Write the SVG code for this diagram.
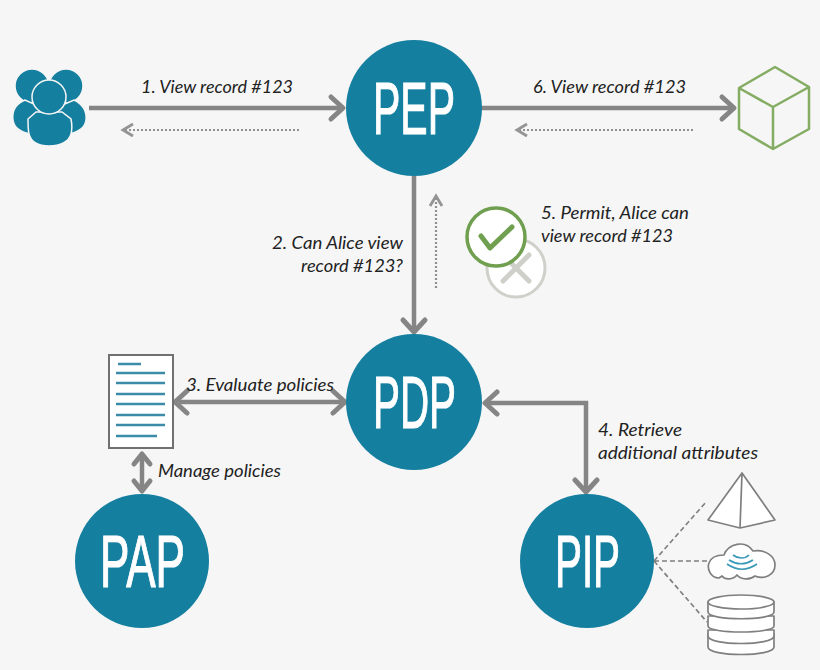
<svg xmlns="http://www.w3.org/2000/svg" width="820" height="670" viewBox="0 0 820 670">
<style>
.c{fill:#157fa0}
.lb{font-family:"Liberation Sans",Arial,sans-serif;fill:#fff;stroke:#fff;stroke-width:1.2;font-size:75px}
.t{font-family:Lato,"Open Sans","Liberation Sans",sans-serif;font-style:italic;font-size:18px;fill:#222}
.s{fill:none;stroke:#858585;stroke-width:4.5}
.d{fill:none;stroke:#8f8f8f;stroke-width:2.2;stroke-dasharray:2 2}
.h{fill:none;stroke:#858585;stroke-width:5;stroke-linecap:round;stroke-linejoin:round}
.hd{fill:none;stroke:#949494;stroke-width:2.8}
.g{fill:none;stroke:#84ac62;stroke-width:2.5;stroke-linejoin:round}
.ln{stroke:#3c8ba8;stroke-width:2.5;fill:none}
.o{fill:#fff;stroke:#7f7f7f;stroke-width:1.7;stroke-linejoin:round}
.da{fill:none;stroke:#808080;stroke-width:1.7;stroke-dasharray:5 3}
</style>
<rect width="820" height="670" fill="#f6f6f6"/>
<g id="connectors">
<path class="s" d="M89 108H342"/><path class="h" d="M331 97l12 11-12 11"/>
<path class="d" d="M299 130H126"/><path class="hd" d="M133 124l-10 6 10 6"/>
<path class="s" d="M481 108H733"/><path class="h" d="M722 97l12 11-12 11"/>
<path class="d" d="M693 130H520"/><path class="hd" d="M527 124l-10 6 10 6"/>
<path class="s" d="M414 176V330"/><path class="h" d="M403 320l11 12 11-12"/>
<path class="d" d="M436 288V199"/><path class="hd" d="M430 206l6-10 6 10"/>
<path class="s" d="M179 402H344"/><path class="h" d="M187 391l-12 11 12 11M333 391l12 11-12 11"/>
<path class="s" d="M142 454V490"/><path class="h" d="M134 464l8-10 8 10M134 481l8 10 8-10"/>
<path class="s" d="M487 403H586V490"/><path class="h" d="M497 392l-12 11 12 11M575 480l11 12 11-12"/>
<path class="da" d="M654 561L707 501M654 561H708M654 561L707 622"/>
</g>
<g id="users">
<g fill="#157fa0" stroke="#f6f6f6" stroke-width="1.5">
<circle cx="32" cy="86" r="17"/><circle cx="66" cy="86" r="17"/>
<path d="M25 100C15 104 12 112 13 120C14 128 20 132 31 134L52 112Z"/>
<path d="M74 100C83 104 87 112 86 120C85 128 79 132 68 134L46 112Z"/>
</g>
<path d="M36 112L28 119C28 124 28 130 29 134C31 142 39 146 49 146C60 146 69 142 71 134C72 130 72 124 71 119L62 112Z" fill="#157fa0" stroke="#f6f6f6" stroke-width="1.5"/>
<circle cx="49" cy="97" r="17" fill="#157fa0" stroke="#f6f6f6" stroke-width="1.5"/>
</g>
<g id="pep"><circle class="c" cx="414" cy="108" r="68"/><text class="lb" x="373" y="134" textLength="82" lengthAdjust="spacingAndGlyphs">PEP</text></g>
<g id="resource"><path class="g" d="M739 88L775 67L809 87V129L773 149L739 129ZM739 88L773 107L809 87M773 107V149"/></g>
<g id="pdp"><circle class="c" cx="414" cy="402" r="68"/><text class="lb" x="373" y="428" textLength="83" lengthAdjust="spacingAndGlyphs">PDP</text></g>
<g id="pap"><circle class="c" cx="142" cy="561" r="67"/><text class="lb" x="100" y="587" textLength="85" lengthAdjust="spacingAndGlyphs">PAP</text></g>
<g id="pip"><circle class="c" cx="587" cy="561" r="67"/><text class="lb" x="555" y="587" textLength="65" lengthAdjust="spacingAndGlyphs">PIP</text></g>
<g id="decision">
<circle cx="516" cy="268" r="29" fill="#fff" stroke="#d0d0cb" stroke-width="3"/>
<path d="M503 255L529 281M529 255L503 281" stroke="#d0d0cb" stroke-width="5" stroke-linecap="round"/>
<circle cx="496" cy="237" r="29" fill="#fff" stroke="#6f9f4f" stroke-width="3.5"/>
<path d="M481 236L490 248L512 227" fill="none" stroke="#6f9f4f" stroke-width="5" stroke-linecap="round" stroke-linejoin="round"/>
</g>
<g id="policy">
<rect x="109" y="355" width="64" height="93" fill="#fff" stroke="#707070" stroke-width="2"/>
<path class="ln" d="M118 364H141M116 373H165M116 383H165M116 394H165M116 404H165M116 415H165M116 425H165M116 436H157"/>
</g>
<g id="pyramid"><path class="o" d="M742 473L708 520L740 528L775 520ZM742 473L740 528"/></g>
<g id="cloud">
<path class="o" d="M719 578C710 578 707 568 709 563C711 557 718 555 724 555C728 544 745 539 753 551C765 549 775 556 775 565C775 575 764 580 755 576C750 580 741 580 737 575C733 580 725 580 722 576Z"/>
<path d="M733 555C738 559 745 559 749 555M729 560C737 565 745 565 753 560M727 564C737 571 747 571 757 564" fill="none" stroke="#3c9ab8" stroke-width="1.7"/>
</g>
<g id="database">
<path class="o" d="M708 634V647C708 657 774 657 774 647V634C774 644 708 644 708 634Z"/>
<path class="o" d="M708 630V636C708 646 774 646 774 636V630Z"/>
<path class="o" d="M708 616V626C708 634 774 634 774 626V616Z"/>
<path class="o" d="M708 602V612C708 621 774 621 774 612V602Z"/>
<ellipse class="o" cx="741" cy="602" rx="33" ry="7"/>
</g>
<g id="labels">
<text class="t" x="141" y="93" textLength="152" lengthAdjust="spacingAndGlyphs">1. View record #123</text>
<text class="t" x="533" y="93" textLength="153" lengthAdjust="spacingAndGlyphs">6. View record #123</text>
<text class="t" x="272" y="249" textLength="131" lengthAdjust="spacingAndGlyphs">2. Can Alice view</text>
<text class="t" x="301" y="272" textLength="102" lengthAdjust="spacingAndGlyphs">record #123?</text>
<text class="t" x="541" y="219" textLength="148" lengthAdjust="spacingAndGlyphs">5. Permit, Alice can</text>
<text class="t" x="541" y="242" textLength="132" lengthAdjust="spacingAndGlyphs">view record #123</text>
<text class="t" x="186" y="391" textLength="148" lengthAdjust="spacingAndGlyphs">3. Evaluate policies</text>
<text class="t" x="158" y="477" textLength="123" lengthAdjust="spacingAndGlyphs">Manage policies</text>
<text class="t" x="598" y="436" textLength="84" lengthAdjust="spacingAndGlyphs">4. Retrieve</text>
<text class="t" x="598" y="459" textLength="160" lengthAdjust="spacingAndGlyphs">additional attributes</text>
</g>
</svg>
